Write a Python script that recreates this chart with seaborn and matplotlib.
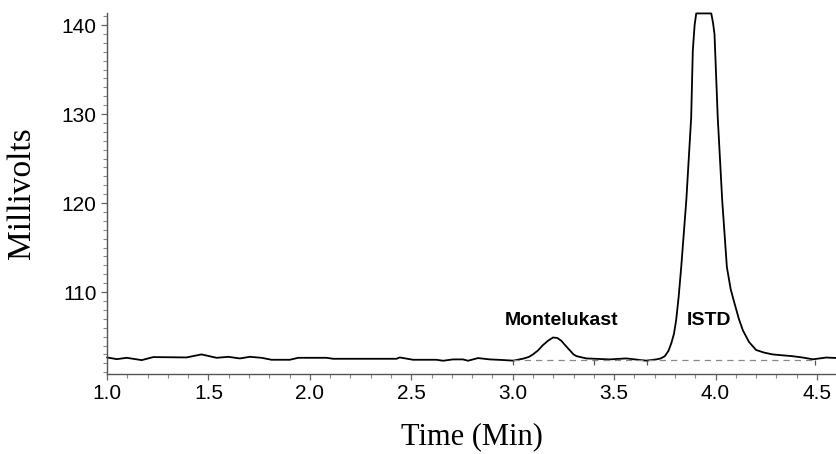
import numpy as np
import pandas as pd
import matplotlib
matplotlib.use('Agg')
import matplotlib.pyplot as plt
from matplotlib.ticker import MultipleLocator, FormatStrFormatter
import seaborn as sns

# chromatogram trace (time in min, signal in mV)
time_min = [1.0, 1.048, 1.097, 1.171, 1.228, 1.392, 1.466, 1.540, 1.598, 1.655,
            1.704, 1.762, 1.811, 1.901, 1.943, 2.082, 2.115, 2.427, 2.443, 2.509,
            2.624, 2.657, 2.706, 2.755, 2.780, 2.829, 2.887, 2.953, 3.002, 3.051,
            3.080, 3.100, 3.125, 3.149, 3.175, 3.199, 3.220, 3.240, 3.260, 3.281,
            3.300, 3.314, 3.363, 3.478, 3.560, 3.658, 3.708, 3.730, 3.750, 3.768,
            3.782, 3.795, 3.806, 3.818, 3.831, 3.856, 3.880, 3.888, 3.897, 3.905,
            3.979, 3.988, 3.995, 4.011, 4.033, 4.056, 4.075, 4.094, 4.115, 4.135,
            4.165, 4.200, 4.240, 4.282, 4.330, 4.380, 4.430, 4.480, 4.545, 4.594]
millivolts = [102.66, 102.47, 102.62, 102.36, 102.70, 102.66, 103.00, 102.62, 102.73, 102.55,
              102.73, 102.62, 102.40, 102.40, 102.62, 102.62, 102.51, 102.51, 102.66, 102.40,
              102.40, 102.29, 102.44, 102.44, 102.29, 102.59, 102.44, 102.37, 102.30, 102.52,
              102.72, 103.00, 103.45, 104.04, 104.55, 104.90, 104.85, 104.53, 104.00, 103.48,
              103.00, 102.81, 102.55, 102.44, 102.55, 102.30, 102.44, 102.55, 102.80, 103.40,
              104.25, 105.30, 106.86, 109.40, 112.83, 120.30, 129.60, 137.10, 140.00, 141.30,
              141.30, 140.20, 138.97, 129.60, 120.30, 112.80, 110.30, 108.70, 107.00, 105.70,
              104.40, 103.50, 103.20, 103.00, 102.90, 102.80, 102.65, 102.45, 102.65, 102.60]

# integration baseline and peak start/end marks
base_t = [3.0, 4.49]
base_mv = [102.4, 102.4]
mark_t = [3.0, 3.40, 3.66, 4.49]

peak_names = ['Montelukast', 'ISTD']
peak_label_t = [3.241, 3.970]
peak_label_mv = [106.85, 106.85]

trace = pd.DataFrame({'Time': time_min, 'mV': millivolts})

sns.set_style('ticks')
plt.rcParams['font.family'] = ['Liberation Sans', 'DejaVu Sans']
plt.rcParams['text.color'] = 'black'
plt.rcParams['xtick.labelcolor'] = 'black'
plt.rcParams['ytick.labelcolor'] = 'black'
plt.rcParams['axes.labelcolor'] = 'black'

fig = plt.figure(figsize=(8.36, 4.54), dpi=100)
ax = fig.add_axes([0.128, 0.1762, 0.872, 0.7952])

sns.lineplot(data=trace, x='Time', y='mV', ax=ax, color='black', linewidth=1.3,
             sort=False, clip_on=False)
ax.plot(base_t, base_mv, color='#888888', linestyle=(0, (5, 4)), linewidth=0.9)
ax.vlines(mark_t, 101.85, 102.4, color='#555555', linewidth=0.9)

for name, t, mv in zip(peak_names, peak_label_t, peak_label_mv):
    ax.text(t, mv, name, ha='center', va='center', fontsize=14, fontweight='bold',
            color='black')

ax.set_xlim(1.0, 4.594)
ax.set_ylim(100.8, 141.35)
ax.xaxis.set_major_locator(MultipleLocator(0.5))
ax.xaxis.set_minor_locator(MultipleLocator(0.1))
ax.xaxis.set_major_formatter(FormatStrFormatter('%.1f'))
ax.yaxis.set_major_locator(MultipleLocator(10))
ax.yaxis.set_minor_locator(MultipleLocator(1))
ax.set_yticks([110, 120, 130, 140])

ax.tick_params(which='major', length=4.5, width=0.9, color='#666666', labelsize=15,
               pad=3, labelcolor='black')
ax.tick_params(which='minor', length=3, width=0.8, color='#888888')
sns.despine(ax=ax)
for s in ['left', 'bottom']:
    ax.spines[s].set_color('#555555')
    ax.spines[s].set_linewidth(1.0)

ax.set_xlabel('Time (Min)', fontsize=22, family=['Liberation Serif', 'DejaVu Serif'],
              color='black')
ax.set_ylabel('Millivolts', fontsize=24, family=['Liberation Serif', 'DejaVu Serif'],
              color='black')
ax.xaxis.set_label_coords(0.5, -0.133)
ax.yaxis.set_label_coords(-0.096, 0.5)

fig.savefig('out.png', dpi=100)
